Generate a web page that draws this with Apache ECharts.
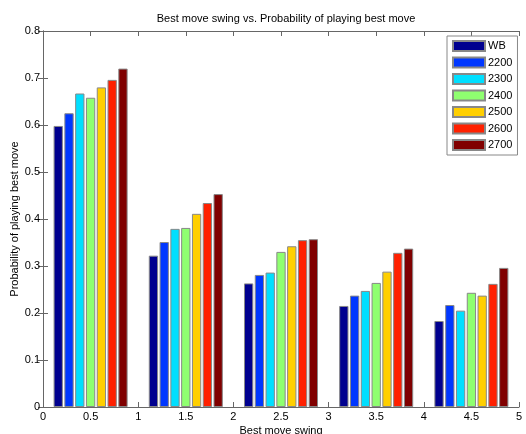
<!DOCTYPE html>
<html>
<head>
<meta charset="utf-8">
<script src="https://cdn.jsdelivr.net/npm/echarts@6/dist/echarts.min.js"></script>
<style>html,body{margin:0;padding:0;background:#fff;}#c{width:526px;height:434px;}</style>
</head>
<body>
<div id="c"></div>
<script>
const categories = ['0.5', '1.5', '2.5', '3.5', '4.5'];
const seriesNames = ['WB', '2200', '2300', '2400', '2500', '2600', '2700'];
const wb   = [0.598, 0.322, 0.263, 0.215, 0.183];
const r2200 = [0.625, 0.351, 0.281, 0.237, 0.217];
const r2300 = [0.667, 0.379, 0.286, 0.247, 0.205];
const r2400 = [0.658, 0.381, 0.330, 0.264, 0.243];
const r2500 = [0.680, 0.411, 0.342, 0.288, 0.237];
const r2600 = [0.696, 0.434, 0.355, 0.328, 0.262];
const r2700 = [0.720, 0.453, 0.357, 0.337, 0.296];
const xTicks = [0, 5, 0.5];
const yTicks = [0, 0.8, 0.1];
const colors = ['#00008f', '#0037ff', '#00dfff', '#8fff70', '#ffcf00', '#ff2000', '#800000'];

const allData = [wb, r2200, r2300, r2400, r2500, r2600, r2700];
const font = 'Liberation Sans, Arial, sans-serif';
const axisColor = '#666';

const chart = echarts.init(document.getElementById('c'), null, {renderer: 'canvas'});
const valueX = (pos, showLabel) => ({
  type: 'value', position: pos, min: xTicks[0], max: xTicks[1], interval: xTicks[2],
  axisLine: {show: true, onZero: false, lineStyle: {color: axisColor, width: 1}},
  axisTick: {show: true, inside: true, length: 5, lineStyle: {color: axisColor}},
  axisLabel: {show: showLabel, color: '#000', fontSize: 11, fontFamily: font, margin: 4},
  splitLine: {show: false}
});
const valueY = (pos, showLabel) => ({
  type: 'value', position: pos, min: yTicks[0], max: yTicks[1], interval: yTicks[2],
  axisLine: {show: true, lineStyle: {color: axisColor, width: 1}},
  axisTick: {show: true, inside: true, length: 5, lineStyle: {color: axisColor}},
  axisLabel: {show: showLabel, color: '#000', fontSize: 11, fontFamily: font, margin: 3},
  splitLine: {show: false}
});

const xb = valueX('bottom', true);
xb.name = 'Best move swing';
xb.nameLocation = 'middle';
xb.nameGap = 18;
xb.nameMoveOverlap = false;
xb.nameTextStyle = {color: '#000', fontSize: 11, fontFamily: font};
const yl = valueY('left', true);
yl.name = 'Probability of playing best move';
yl.nameLocation = 'middle';
yl.nameGap = 23;
yl.nameMoveOverlap = false;
yl.nameTextStyle = {color: '#000', fontSize: 11, fontFamily: font};

chart.setOption({
  animation: false,
  backgroundColor: '#fff',
  title: {
    text: 'Best move swing vs. Probability of playing best move',
    left: 281, top: 8, textAlign: 'center',
    textStyle: {fontSize: 11, fontWeight: 'normal', color: '#000', fontFamily: font}
  },
  grid: {left: 43, right: 7, top: 31, bottom: 27, containLabel: false, outerBoundsMode: 'none'},
  legend: {
    orient: 'vertical', left: 447, top: 36,
    data: seriesNames,
    icon: 'rect',
    itemWidth: 32, itemHeight: 10, itemGap: 4.5,
    padding: [4, 5, 4, 5],
    borderColor: '#888', borderWidth: 1, backgroundColor: '#fff',
    textStyle: {color: '#000', fontSize: 11, fontFamily: font, padding: [0, 0, 0, -2]}
  },
  xAxis: [
    {type: 'category', data: categories, show: false, boundaryGap: true},
    xb,
    valueX('top', false)
  ],
  yAxis: [yl, valueY('right', false)],
  series: seriesNames.map((n, i) => ({
    name: n, type: 'bar', xAxisIndex: 0, yAxisIndex: 0,
    data: allData[i],
    barWidth: 9.3, barGap: '16%',
    itemStyle: {color: colors[i], borderColor: '#888', borderWidth: 1}
  }))
});
</script>
</body>
</html>
